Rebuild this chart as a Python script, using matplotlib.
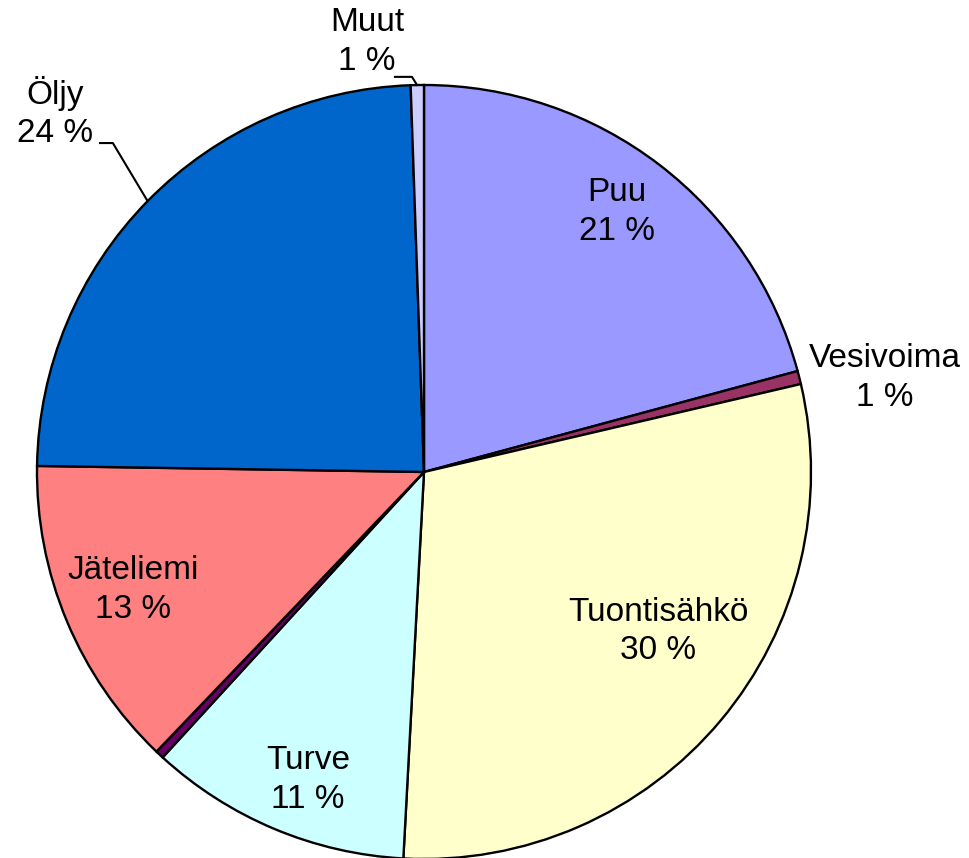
import matplotlib
matplotlib.use('Agg')
import matplotlib.pyplot as plt

plt.rcParams['font.family'] = ['Liberation Sans', 'DejaVu Sans']

# share of energy sources, percent
names = ['Puu', 'Vesivoima', 'Tuontisähkö', 'Turve', '', 'Jäteliemi', 'Öljy', 'Muut']
shares = [20.8, 0.55, 29.5, 10.95, 0.35, 13.1, 24.2, 0.55]
colors = ['#9999FF', '#993366', '#FFFFCC', '#CCFFFF', '#660066', '#FF8080', '#0066CC', '#CCCCFF']

# label positions in pie units (radius = 1)
label_xy = [(0.499, 0.672), (1.191, 0.243), (0.605, -0.413), (-0.300, -0.796),
            (0, 0), (-0.752, -0.305), (-0.953, 0.928), (-0.147, 1.111)]

fig = plt.figure(figsize=(9.7, 8.58), dpi=100)
cx, cy, r = 424, 472, 387
ax = fig.add_axes([(cx - r) / 970, (858 - cy - r) / 858, 2 * r / 970, 2 * r / 858])

labels = []
for n, v in zip(names, shares):
    labels.append(f'{n}\n{v:.0f} %' if n else '')

wedges, texts = ax.pie(shares, colors=colors, startangle=90, counterclock=False,
                       labels=labels, radius=1,
                       wedgeprops=dict(edgecolor='black', linewidth=1.7))
for t, (x, y) in zip(texts, label_xy):
    t.set_position((x, y))
    t.set_ha('center')
    t.set_va('center')
    t.set_fontsize(24)
    t.set_linespacing(1.3)

# leader lines for Öljy and Muut
ax.plot([-0.837, -0.804, -0.716], [0.850, 0.850, 0.703], color='black', lw=1.5, clip_on=False)
ax.plot([-0.075, -0.031, -0.018], [1.021, 1.021, 1.0], color='black', lw=1.5, clip_on=False)

ax.set_xlim(-1, 1)
ax.set_ylim(-1, 1)
ax.set_aspect('auto')
ax.axis('off')

fig.savefig('out.png', dpi=100)
